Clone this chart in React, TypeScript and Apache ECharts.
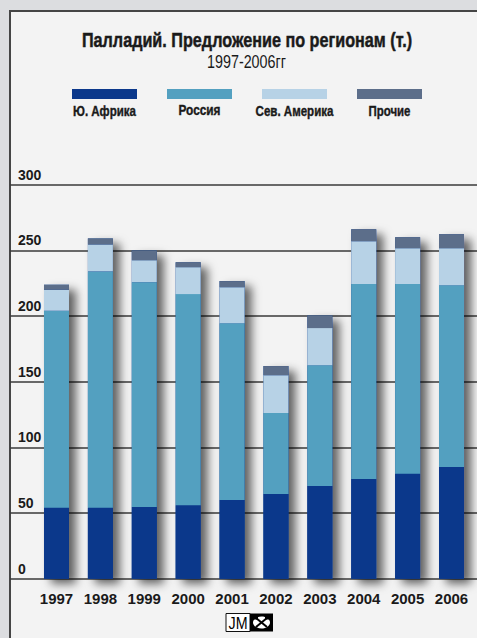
import React, { useEffect, useRef } from "react";
import * as echarts from "echarts";

const years = ["1997", "1998", "1999", "2000", "2001", "2002", "2003", "2004", "2005", "2006"];
const southAfrica = [54, 54, 54.5, 56, 60, 64.5, 70.5, 76, 80, 85];
const russia = [150, 180, 171.3, 160.7, 134.6, 61.6, 92.1, 148.3, 144.3, 138.5];
const northAmerica = [16, 20.5, 16.7, 20.5, 27.4, 28.9, 28.2, 32.7, 27.4, 28.2];
const others = [3.8, 4.6, 7.4, 3.8, 4.6, 6.9, 9.7, 9.1, 8.3, 10.6];
const seriesNames = ["Ю. Африка", "Россия", "Сев. Америка", "Прочие"];
const seriesColors = ["#0b388b", "#53a0c0", "#b7d2e6", "#5c6e8a"];
const yTicks = { min: 0, max: 300, interval: 50 };

const FONT = "'Liberation Sans', Arial, sans-serif";

function measure(text: string, font: string): number {
  const c = document.createElement("canvas").getContext("2d");
  if (!c) return text.length * 8;
  c.font = font;
  return c.measureText(text).width;
}

function fitText(text: string, cx: number, cy: number, width: number, font: string, fill = "#1a1a1a", heavy = 0) {
  const w = measure(text, font);
  const s = w > 0 ? width / w : 1;
  const style: any = { text, fill, font, textAlign: "center", textVerticalAlign: "middle" };
  if (heavy > 0) {
    style.stroke = fill;
    style.lineWidth = heavy;
  }
  return { type: "text", x: cx, y: cy, scaleX: s, scaleY: 1, style };
}

export default function App() {
  const ref = useRef<HTMLDivElement>(null);
  useEffect(() => {
    if (!ref.current) return;
    const chart = echarts.init(ref.current, null, { renderer: "svg" });
    const totals = years.map((_, i) => southAfrica[i] + russia[i] + northAmerica[i] + others[i]);
    const data = [southAfrica, russia, northAmerica, others];

    const legendX = [72, 167, 262, 357];
    const legendTextW = [63, 42, 78, 42];
    const legendGraphics: any[] = [];
    seriesNames.forEach((n, i) => {
      legendGraphics.push({
        type: "rect",
        shape: { x: legendX[i], y: 89, width: 65, height: 10 },
        style: { fill: seriesColors[i] },
      });
      legendGraphics.push(fitText(n, legendX[i] + 32.5, 110.5, legendTextW[i], `bold 15px ${FONT}`, "#1a1a1a", 0.4));
    });

    const top = 184.7;
    const bottom = 638 - 578.7;

    chart.setOption({
      animation: false,
      backgroundColor: "#dcdde0",
      graphic: [
        {
          type: "rect",
          z: -100,
          shape: { x: 10, y: 11, width: 480, height: 640 },
          style: { fill: "#f3f3f3", stroke: "#454545", lineWidth: 2 },
        },
        fitText("Палладий. Предложение по регионам (т.)", 247, 40, 330, `bold 21px ${FONT}`, "#1a1a1a", 0.5),
        fitText("1997-2006гг", 246.5, 61.5, 79, `18px ${FONT}`),
        ...legendGraphics,
        {
          type: "group",
          children: [
            { type: "rect", shape: { x: 226, y: 613.5, width: 24, height: 18 }, style: { fill: "#ffffff", stroke: "#111", lineWidth: 1 } },
            fitText("JM", 238, 623, 19, `16px ${FONT}`, "#000"),
            { type: "rect", shape: { x: 250, y: 613.5, width: 23, height: 18 }, style: { fill: "#000" } },
            { type: "ellipse", shape: { cx: 261.5, cy: 622.5, rx: 8.5, ry: 6 }, style: { fill: "#fff" } },
            { type: "line", shape: { x1: 256, y1: 618, x2: 267, y2: 627 }, style: { stroke: "#000", lineWidth: 2 } },
            { type: "line", shape: { x1: 267, y1: 618, x2: 256, y2: 627 }, style: { stroke: "#000", lineWidth: 2 } },
            { type: "rect", shape: { x: 254, y: 616.5, width: 4, height: 3 }, style: { fill: "#000" } },
            { type: "rect", shape: { x: 265, y: 616.5, width: 4, height: 3 }, style: { fill: "#000" } },
          ],
        },
      ],
      grid: [
        { left: 10, right: 0, top, bottom },
        { left: 34.55, right: 3.55, top, bottom },
      ],
      xAxis: [
        { type: "value", gridIndex: 0, min: 0, max: 1, show: false },
        {
          type: "category",
          gridIndex: 1,
          data: years,
          axisLine: { show: false },
          axisTick: { show: false },
          axisLabel: {
            interval: 0,
            margin: 12,
            fontFamily: FONT,
            fontWeight: "bold",
            fontSize: 15,
            color: "#1a1a1a",
          },
        },
      ],
      yAxis: [
        {
          type: "value",
          gridIndex: 0,
          min: yTicks.min,
          max: yTicks.max,
          interval: yTicks.interval,
          axisLine: { show: false },
          axisTick: { show: false },
          splitLine: { show: true, lineStyle: { color: "#3a3a3a", width: 1.5 } },
          axisLabel: {
            inside: true,
            margin: 8,
            verticalAlign: "bottom",
            lineHeight: 14,
            padding: [0, 0, 3, 0],
            fontFamily: FONT,
            fontWeight: "bold",
            fontSize: 14,
            color: "#1a1a1a",
          },
        },
        { type: "value", gridIndex: 1, min: yTicks.min, max: yTicks.max, interval: yTicks.interval, show: false },
      ],
      series: [
        {
          type: "bar",
          name: "shadow",
          xAxisIndex: 1,
          yAxisIndex: 1,
          data: totals,
          barWidth: 25,
          barGap: "-100%",
          clip: false,
          z: 1,
          silent: true,
          itemStyle: {
            color: "#0b388b",
            shadowBlur: 10,
            shadowColor: "rgba(0,0,0,0.6)",
            shadowOffsetX: 7,
            shadowOffsetY: 5,
          },
        },
        ...seriesNames.map((n, i) => ({
          type: "bar",
          name: n,
          xAxisIndex: 1,
          yAxisIndex: 1,
          stack: "total",
          data: data[i],
          barWidth: 25,
          barGap: "-100%",
          z: 3,
          itemStyle: { color: seriesColors[i] },
        })),
      ],
    });
    return () => chart.dispose();
  }, []);
  return <div ref={ref} style={{ position: "fixed", left: 0, top: 0, width: 477, height: 638 }} />;
}
